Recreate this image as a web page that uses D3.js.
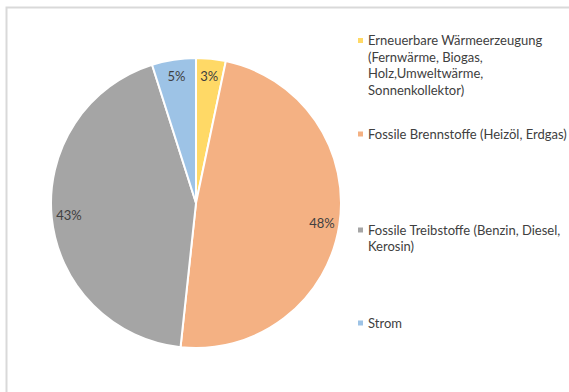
<!DOCTYPE html>
<html><head><meta charset="utf-8">
<script src="https://cdn.jsdelivr.net/npm/d3@7"></script>
<style>body{margin:0;background:#fff;}svg{display:block;}</style>
</head><body>
<svg id="chart" width="569" height="392"></svg>
<script>
const categories = [
  "Erneuerbare Wärmeerzeugung (Fernwärme, Biogas, Holz,Umweltwärme, Sonnenkollektor)",
  "Fossile Brennstoffe (Heizöl, Erdgas)",
  "Fossile Treibstoffe (Benzin, Diesel, Kerosin)",
  "Strom"
];
const values = [3.3, 48.4, 43.4, 4.9];
const percentLabels = ["3%", "48%", "43%", "5%"];
const legendLines = [
  ["Erneuerbare Wärmeerzeugung", "(Fernwärme, Biogas,", "Holz,Umweltwärme,", "Sonnenkollektor)"],
  ["Fossile Brennstoffe (Heizöl, Erdgas)"],
  ["Fossile Treibstoffe (Benzin, Diesel,", "Kerosin)"],
  ["Strom"]
];
const colors = ["#FFD966", "#F4B183", "#A5A5A5", "#9DC3E6"];

const svg = d3.select("#chart");
const font = "Lato, 'Open Sans', sans-serif";

svg.append("rect").attr("x", 6.5).attr("y", 7.5).attr("width", 600).attr("height", 400)
  .attr("fill", "#fff").attr("stroke", "#d9d9d9").attr("stroke-width", 2);

const cx = 196, cy = 203, r = 145;
const data = values.map((v, i) => ({v, i}));
const pie = d3.pie().value(d => d.v).sort(null);
const arcs = pie(data);
const arc = d3.arc().innerRadius(0).outerRadius(r);

const g = svg.append("g").attr("transform", `translate(${cx},${cy})`);
g.selectAll("path").data(arcs).join("path")
  .attr("d", arc)
  .attr("fill", d => colors[d.data.i])
  .attr("stroke", "#fff").attr("stroke-width", 2).attr("stroke-linejoin", "round");

const labelPos = d3.arc().innerRadius(r * 0.88).outerRadius(r * 0.88);
g.selectAll("text").data(arcs).join("text")
  .attr("transform", d => `translate(${labelPos.centroid(d)})`)
  .attr("text-anchor", "middle").attr("dy", "0.35em")
  .attr("font-family", font).attr("font-size", 13).attr("fill", "#404040")
  .text(d => percentLabels[d.data.i]);

const legendY = [40.5, 134, 230, 323];
const lineH = 16.7;
const lg = svg.append("g");
legendLines.forEach((lines, i) => {
  lg.append("rect").attr("x", 358).attr("y", legendY[i] - 2.5).attr("width", 5).attr("height", 5)
    .attr("fill", colors[i]);
  lines.forEach((t, j) => {
    lg.append("text").attr("x", 368).attr("y", legendY[i] + j * lineH).attr("dy", "0.35em")
      .attr("font-family", font).attr("font-size", 13).attr("fill", "#404040").text(t);
  });
});
</script>
</body></html>
